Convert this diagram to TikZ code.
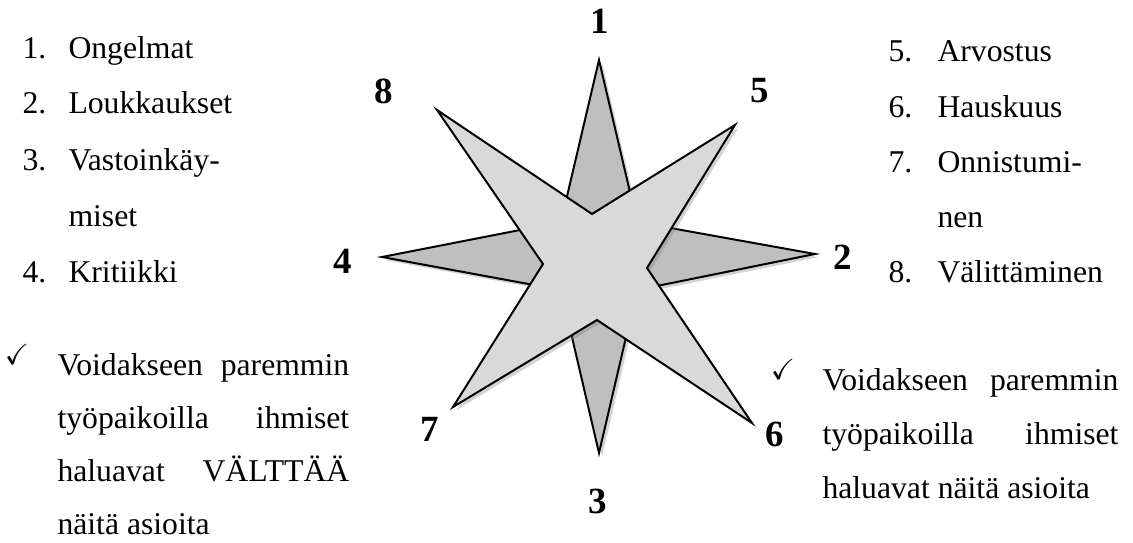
\documentclass[tikz,border=0pt]{standalone}
\usepackage{fontspec}
\setmainfont{Liberation Serif}
\usepackage{amssymb}
\usetikzlibrary{shadows}

\begin{document}
\begin{tikzpicture}[x=0.3788pt,y=-0.3788pt,
   num/.style={font=\fontsize{14}{16}\selectfont\bfseries},
   item/.style={anchor=base west,inner sep=0pt,font=\fontsize{12}{14}\selectfont},
   tick/.style={inner sep=0pt,font=\fontsize{11}{12}\selectfont},
   starline/.style={draw=black,line width=0.75pt,
      drop shadow={shadow xshift=1.2pt,shadow yshift=-1.2pt,opacity=0.35}}]

   \useasboundingbox (0,0) rectangle (1133,543);

   % back star
   \filldraw [starline, fill=gray!50] (599,60) -- (637,222) -- (815,254) -- (637,290) -- (599,453) -- (561,290) -- (382,257) -- (561,222) -- cycle;
   % front star
   \filldraw [starline, fill=gray!30] (437,110) -- (592,214) -- (735,125) -- (647,268) -- (752,423) -- (597,320) -- (453,407) -- (543,264) -- cycle;

   \node[num] (k1) at (600,21) {1};
   \node[num] (k5) at (760,91) {5};
   \node[num] (k8) at (384,91) {8};
   \node[num] (k4) at (343,261) {4};
   \node[num] (k2) at (843,257) {2};
   \node[num] (k7) at (430,429) {7};
   \node[num] (k6) at (775,434) {6};
   \node[num] (k3) at (598,501) {3};

   % left list
   \node[item] (n1) at (22,58) {1.};  \node[item] (t1) at (68,58) {Ongelmat};
   \node[item] (n2) at (22,114) {2.}; \node[item] (t2) at (68,114) {Loukkaukset};
   \node[item] (n3) at (22,170) {3.}; \node[item] (t3) at (68,170) {Vastoinkäy-};
   \node[item] (t3b) at (68,226) {miset};
   \node[item] (n4) at (22,282) {4.}; \node[item] (t4) at (68,282) {Kritiikki};

   % right list
   \node[item] (n5) at (888,62) {5.};  \node[item] (t5) at (937,62) {Arvostus};
   \node[item] (n6) at (888,117) {6.}; \node[item] (t6) at (937,117) {Hauskuus};
   \node[item] (n7) at (888,172) {7.}; \node[item] (t7) at (937,172) {Onnistumi-};
   \node[item] (t7b) at (937,227) {nen};
   \node[item] (n8) at (888,282) {8.}; \node[item] (t8) at (937,282) {Välittäminen};

   % left note
   \node[tick] (cl) at (17,354) {\checkmark};
   \node[item] (l1) at (57,375) {\makebox[110.5pt][s]{Voidakseen paremmin}};
   \node[item] (l2) at (57,428) {\makebox[110.5pt][s]{työpaikoilla ihmiset}};
   \node[item] (l3) at (57,481) {\makebox[110.5pt][s]{haluavat VÄLTTÄÄ}};
   \node[item] (l4) at (57,534) {näitä asioita};

   % right note
   \node[tick] (cr) at (783,369) {\checkmark};
   \node[item] (r1) at (822,390) {\makebox[112.1pt][s]{Voidakseen paremmin}};
   \node[item] (r2) at (822,444) {\makebox[112.1pt][s]{työpaikoilla ihmiset}};
   \node[item] (r3) at (822,498) {haluavat näitä asioita};

\end{tikzpicture}
\end{document}
